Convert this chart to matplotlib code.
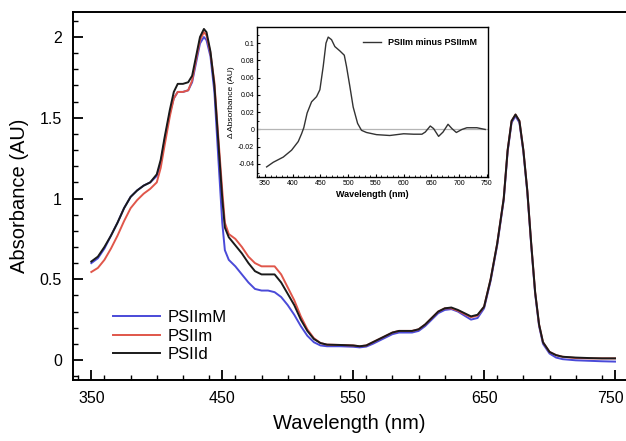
import matplotlib
matplotlib.use("Agg")
import matplotlib.pyplot as plt
import matplotlib.transforms as mtransforms
from matplotlib.ticker import MultipleLocator

plt.rcParams.update({
    "font.family": ["Liberation Sans", "DejaVu Sans"],
    "xtick.direction": "in",
    "ytick.direction": "in",
})

BLUE = "#4a4ad8"
RED = "#e0564a"
BLACK = "#1a1a1a"

# main spectra (nm, absorbance)
wl = [350, 355, 360, 365, 370, 375, 380, 385, 390, 395, 400, 403, 406, 410,
      413, 416, 420, 424, 427, 430, 433, 436, 438, 441, 444, 447, 450, 452,
      455, 460, 465, 470, 475, 480, 485, 490, 495, 500, 505, 510, 515, 520,
      525, 530, 540, 550, 555, 560, 565, 570, 575, 580, 585, 590, 595, 600,
      605, 610, 615, 620, 625, 630, 635, 640, 645, 650, 655, 660, 665, 668,
      671, 674, 677, 680, 683, 686, 689, 692, 695, 700, 705, 710, 720, 730,
      740, 750]

psii_d = [0.61, 0.64, 0.70, 0.77, 0.85, 0.94, 1.01, 1.05, 1.08, 1.10, 1.15,
          1.24, 1.38, 1.55, 1.66, 1.71, 1.71, 1.72, 1.76, 1.88, 2.00, 2.05,
          2.03, 1.91, 1.70, 1.35, 1.00, 0.82, 0.76, 0.71, 0.66, 0.60, 0.55,
          0.53, 0.53, 0.53, 0.48, 0.41, 0.34, 0.25, 0.18, 0.13, 0.105, 0.095,
          0.093, 0.09, 0.085, 0.09, 0.11, 0.13, 0.15, 0.17, 0.18, 0.18, 0.18,
          0.19, 0.22, 0.26, 0.30, 0.32, 0.325, 0.31, 0.29, 0.27, 0.28, 0.33,
          0.50, 0.72, 1.00, 1.30, 1.48, 1.52, 1.48, 1.30, 1.05, 0.72, 0.42,
          0.22, 0.11, 0.05, 0.03, 0.02, 0.015, 0.012, 0.01, 0.01]

psii_m = [0.545, 0.57, 0.62, 0.69, 0.77, 0.86, 0.94, 0.99, 1.03, 1.06, 1.10,
          1.19, 1.33, 1.51, 1.62, 1.66, 1.66, 1.67, 1.73, 1.86, 1.98, 2.03,
          2.01, 1.90, 1.72, 1.38, 1.05, 0.85, 0.78, 0.75, 0.70, 0.64, 0.60,
          0.58, 0.58, 0.58, 0.53, 0.45, 0.37, 0.27, 0.19, 0.135, 0.105, 0.095,
          0.093, 0.09, 0.085, 0.09, 0.11, 0.13, 0.15, 0.17, 0.18, 0.18, 0.18,
          0.19, 0.22, 0.26, 0.30, 0.32, 0.32, 0.305, 0.285, 0.265, 0.275, 0.33,
          0.50, 0.72, 1.00, 1.30, 1.48, 1.52, 1.48, 1.30, 1.05, 0.72, 0.42,
          0.22, 0.11, 0.05, 0.03, 0.02, 0.012, 0.01, 0.01, 0.01]

psii_mm = [0.60, 0.63, 0.69, 0.77, 0.85, 0.94, 1.01, 1.05, 1.08, 1.10, 1.14,
           1.22, 1.36, 1.53, 1.62, 1.66, 1.66, 1.67, 1.72, 1.84, 1.96, 2.00,
           1.98, 1.88, 1.66, 1.25, 0.85, 0.68, 0.62, 0.58, 0.53, 0.48, 0.44,
           0.43, 0.43, 0.42, 0.39, 0.34, 0.28, 0.21, 0.15, 0.11, 0.09, 0.085,
           0.085, 0.082, 0.078, 0.083, 0.10, 0.12, 0.14, 0.16, 0.17, 0.17,
           0.17, 0.18, 0.21, 0.25, 0.29, 0.31, 0.315, 0.30, 0.275, 0.25, 0.26,
           0.32, 0.49, 0.71, 0.99, 1.29, 1.47, 1.51, 1.47, 1.29, 1.04, 0.71,
           0.41, 0.21, 0.10, 0.04, 0.015, 0.005, -0.002, -0.005, -0.008, -0.01]

# difference spectrum (inset)
d_wl = [353, 365, 383, 398, 410, 416, 420, 426, 434, 443, 449, 455, 460, 464,
        470, 476, 485, 493, 497, 503, 509, 517, 524, 533, 551, 575, 600, 618,
        633, 639, 648, 654, 663, 671, 680, 687, 695, 705, 714, 732, 747]
d_abs = [-0.0434, -0.038, -0.032, -0.024, -0.014, -0.005, 0.002, 0.019, 0.032,
         0.038, 0.046, 0.073, 0.100, 0.107, 0.104, 0.096, 0.091, 0.086, 0.073,
         0.050, 0.026, 0.007, -0.001, -0.0035, -0.006, -0.007, -0.005,
         -0.0055, -0.0055, -0.003, 0.004, 0.001, -0.008, -0.003, 0.006, 0.001,
         -0.0035, 0.0, 0.002, 0.002, 0.0]

fig = plt.figure(figsize=(6.26, 4.41), dpi=100)
ax = fig.add_axes([0.1166, 0.1383, 0.8834, 0.8345])

ax.plot(wl, psii_mm, color=BLUE, lw=1.4, label="PSIImM")
ax.plot(wl, psii_m, color=RED, lw=1.4, label="PSIIm")
ax.plot(wl, psii_d, color=BLACK, lw=1.4, label="PSIId")

ax.set_xlim(336, 758.4)
ax.set_ylim(-0.124, 2.155)
ax.xaxis.set_minor_locator(MultipleLocator(20))
ax.yaxis.set_minor_locator(MultipleLocator(0.1))
ax.set_yticks([0, 0.5, 1, 1.5, 2])
ax.set_yticklabels(["0", "0.5", "1", "1.5", "2"])
ax.set_xticks([350, 450, 550, 650, 750])
ax.tick_params(which="major", length=7, width=1.3, labelsize=11.5, pad=8)
ax.tick_params(which="minor", length=3.5, width=1.0)
ax.spines["right"].set_visible(False)
for s in ["left", "top", "bottom"]:
    ax.spines[s].set_linewidth(1.4)

# keep the last x label inside the figure edge
last = ax.get_xticklabels()[-1]
last.set_transform(last.get_transform() +
                   mtransforms.ScaledTranslation(-3 / 72, 0, fig.dpi_scale_trans))

ax.set_xlabel("Wavelength (nm)", fontsize=14.5, labelpad=6)
ax.set_ylabel("Absorbance (AU)", fontsize=14.5, labelpad=8)

ax.legend(loc="lower left", bbox_to_anchor=(0.06, 0.03), frameon=False,
          fontsize=12, handlelength=2.8, handletextpad=0.5,
          labelspacing=0.22, borderaxespad=0)

# inset
ins = fig.add_axes([0.4105, 0.5986, 0.369, 0.340])
ins.axhline(0, color="#b5b5b5", lw=0.9)
ins.plot(d_wl, d_abs, color="#333333", lw=1.0, label="PSIIm minus PSIImM")
ins.set_xlim(335.6, 752)
ins.set_ylim(-0.0551, 0.1186)
ins.xaxis.set_major_locator(MultipleLocator(50))
ins.xaxis.set_minor_locator(MultipleLocator(10))
ins.yaxis.set_minor_locator(MultipleLocator(0.01))
ins.set_yticks([-0.04, -0.02, 0, 0.02, 0.04, 0.06, 0.08, 0.1])
ins.set_yticklabels(["-0.04", "-0.02", "0", "0.02", "0.04", "0.06", "0.08", "0.1"])
ins.tick_params(which="major", length=2.5, width=0.8, labelsize=5, pad=2)
ins.tick_params(which="minor", length=1.3, width=0.6)
for s in ins.spines.values():
    s.set_linewidth(1.0)
ins.set_xlabel("Wavelength (nm)", fontsize=6.5, fontweight="bold", labelpad=2)
ins.set_ylabel("Δ Absorbance (AU)", fontsize=6, labelpad=2)
ins.legend(loc="upper right", frameon=False, handlelength=2,
           prop={"size": 6.5, "weight": "bold"}, borderaxespad=0.8)

fig.savefig("out.png", dpi=100)
